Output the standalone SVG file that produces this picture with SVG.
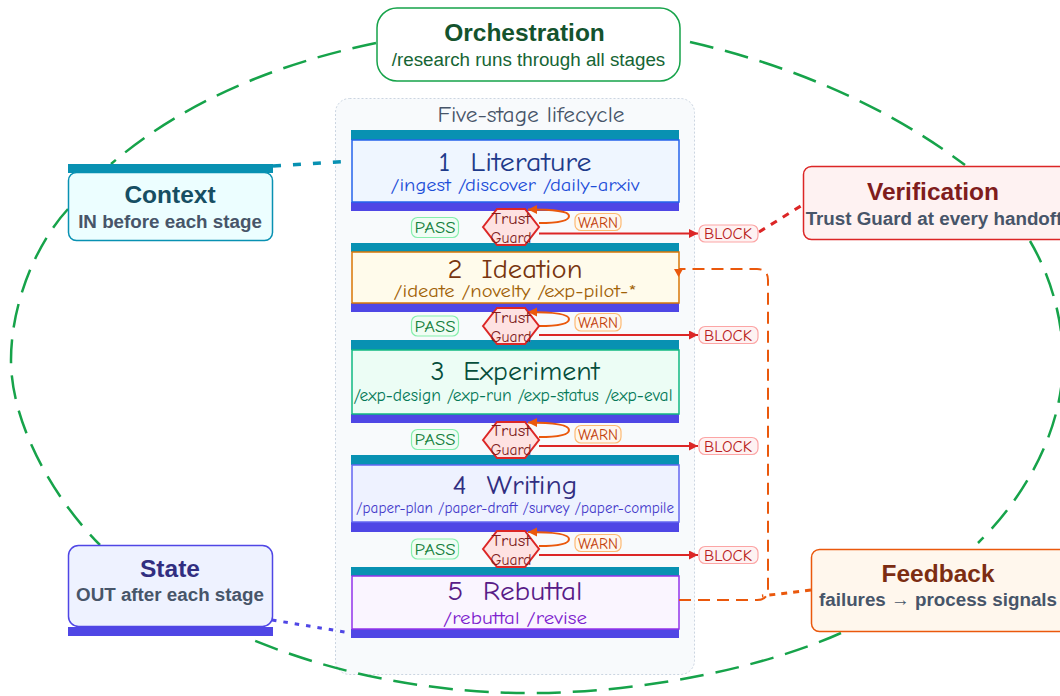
<svg xmlns="http://www.w3.org/2000/svg" width="1060" height="696" viewBox="0 0 1060 696">
<style>
text{text-anchor:middle;white-space:pre}
.c{font-family:"Comic Sans MS","Comic Neue",cursive}
.tt{font-size:27px}
.top{fill:#0891b2}
.bot{fill:#4f46e5}
.sub{font-family:"Liberation Sans",Arial,sans-serif;font-weight:bold;font-size:18.800px;fill:#475569}
.nt{font-family:"Liberation Sans",Arial,sans-serif;font-weight:bold;font-size:24.500px}
.hex{fill:#fee2e2;stroke:#dc2626;stroke-width:2}
.gt{font-size:16.500px;fill:#7f1d1d}
.pass{fill:#f0fdf4;stroke:#86efac;stroke-width:1.2}
.warn{fill:#fff7ed;stroke:#fdba74;stroke-width:1.2}
.block{fill:#fef2f2;stroke:#fca5a5;stroke-width:1.2}
.lbl{font-size:16px}
.loop{fill:none;stroke:#ea580c;stroke-width:2}
.blk{fill:none;stroke:#dc2626;stroke-width:2}
.ring{stroke:#16a34a;stroke-width:2.500;stroke-dasharray:24 12}
</style>
<defs>
<marker id="ao" markerUnits="userSpaceOnUse" markerWidth="10" markerHeight="10" refX="9" refY="4.500" orient="auto"><path d="M0,0L9,4.500L0,9z" fill="#ea580c"/></marker>
<marker id="ar" markerUnits="userSpaceOnUse" markerWidth="10" markerHeight="10" refX="9" refY="4.500" orient="auto"><path d="M0,0L9,4.500L0,9z" fill="#dc2626"/></marker>
</defs>
<g id="lifecycle"><rect x="335.500" y="98.500" width="359" height="576" rx="14" fill="#f8fafc" stroke="#cbd5e1" stroke-dasharray="2 2"/>
<text class="c" x="531" y="122" font-size="23" fill="#475569" textLength="187" lengthAdjust="spacingAndGlyphs">Five-stage lifecycle</text></g>
<g id="stage1"><rect class="top" x="351" y="130" width="328" height="10"/><rect class="bot" x="351" y="202" width="328" height="9"/><rect x="352" y="140" width="327" height="62" fill="#eff6ff" stroke="#2563eb" stroke-width="1.500"/>
<text class="c tt" x="515" y="171" fill="#1e3a8a" textLength="153" lengthAdjust="spacingAndGlyphs">1  Literature</text><text class="c" x="515" y="191" font-size="19" fill="#1d4ed8" textLength="249" lengthAdjust="spacingAndGlyphs">/ingest /discover /daily-arxiv</text></g>
<g id="stage2"><rect class="top" x="351" y="243" width="328" height="9"/><rect class="bot" x="351" y="303" width="328" height="9"/><rect x="352" y="252" width="327" height="51" fill="#fffbeb" stroke="#d97706" stroke-width="1.500"/>
<text class="c tt" x="515" y="278" fill="#78350f" textLength="135" lengthAdjust="spacingAndGlyphs">2  Ideation</text><text class="c" x="515" y="297" font-size="19" fill="#a16207" textLength="243" lengthAdjust="spacingAndGlyphs">/ideate /novelty /exp-pilot-*</text></g>
<g id="stage3"><rect class="top" x="351" y="340" width="328" height="10"/><rect class="bot" x="351" y="414" width="328" height="9"/><rect x="352" y="350" width="327" height="64" fill="#ecfdf5" stroke="#10b981" stroke-width="1.500"/>
<text class="c tt" x="515" y="380" fill="#064e3b" textLength="169" lengthAdjust="spacingAndGlyphs">3  Experiment</text><text class="c" x="513" y="401" font-size="17" fill="#047857" textLength="319" lengthAdjust="spacingAndGlyphs">/exp-design /exp-run /exp-status /exp-eval</text></g>
<g id="stage4"><rect class="top" x="351" y="455" width="328" height="10"/><rect class="bot" x="351" y="522" width="328" height="10"/><rect x="352" y="465" width="327" height="57" fill="#eef2ff" stroke="#6366f1" stroke-width="1.500"/>
<text class="c tt" x="515" y="494" fill="#312e81" textLength="125" lengthAdjust="spacingAndGlyphs">4  Writing</text><text class="c" x="515" y="513" font-size="16" fill="#4338ca" textLength="318" lengthAdjust="spacingAndGlyphs">/paper-plan /paper-draft /survey /paper-compile</text></g>
<g id="stage5"><rect class="top" x="351" y="567" width="328" height="9"/><rect class="bot" x="351" y="629" width="328" height="9"/><rect x="352" y="576" width="327" height="53" fill="#faf5ff" stroke="#9333ea" stroke-width="1.500"/>
<text class="c tt" x="515" y="600" fill="#581c87" textLength="135" lengthAdjust="spacingAndGlyphs">5  Rebuttal</text><text class="c" x="515" y="624" font-size="19" fill="#7e22ce" textLength="144" lengthAdjust="spacingAndGlyphs">/rebuttal /revise</text></g>
<g id="connectors" fill="none">
<path class="ring" d="M376,43C270,65 180,105 111,164"/>
<path class="ring" d="M68,209C35,245 11,305 11,360C11,425 55,500 100,545"/>
<path class="ring" d="M841,633C770,665 650,693 530,693C420,693 325,670 248,638"/>
<path class="ring" d="M1030,241C1050,275 1063,318 1063,361C1063,430 1025,497 978,543"/>
<path class="ring" d="M690,42C790,65 885,105 965,165"/>
<path d="M273,166L351,161" stroke="#0891b2" stroke-width="3.500" stroke-dasharray="8 12"/>
<path d="M272,620L351,633" stroke="#4f46e5" stroke-width="3" stroke-dasharray="4.500 7"/>
<path d="M759,232L804,204" stroke="#dc2626" stroke-width="3" stroke-dasharray="7 7"/>
<path d="M811,590L762,596" stroke="#ea580c" stroke-width="3" stroke-dasharray="6 6"/>
<path d="M679,600H757Q768,600 768,589V280Q768,269 757,269H679" stroke="#ea580c" stroke-width="2" stroke-dasharray="12 7"/>
<path d="M674,269H683L678.500,277z" fill="#ea580c"/>
<path class="loop" marker-end="url(#ao)" d="M539,223C562,223 569,220 569,216C569,211 555,209.500 528,209.500"/>
<path class="blk" marker-end="url(#ar)" d="M539,233.500H698"/>
<path class="loop" marker-end="url(#ao)" d="M539,326C562,326 569,323 569,319C569,314 555,312 528,312"/>
<path class="blk" marker-end="url(#ar)" d="M539,335H698"/>
<path class="loop" marker-end="url(#ao)" d="M539,437C562,437 569,434 569,430C569,425 555,422.500 528,422.500"/>
<path class="blk" marker-end="url(#ar)" d="M539,446H698"/>
<path class="loop" marker-end="url(#ao)" d="M539,546C562,546 569,543 569,539C569,534 555,532 528,532"/>
<path class="blk" marker-end="url(#ar)" d="M539,555H698"/>
</g>
<g id="guard1"><polygon class="hex" points="483,227 497,209 525,209 539,227 525,245 497,245"/><text class="c gt" x="511" y="224" textLength="39" lengthAdjust="spacingAndGlyphs">Trust</text><text class="c gt" x="511" y="243" textLength="41" lengthAdjust="spacingAndGlyphs">Guard</text></g>
<g id="guard2"><polygon class="hex" points="483,326 497,308 525,308 539,326 525,344 497,344"/><text class="c gt" x="511" y="323" textLength="39" lengthAdjust="spacingAndGlyphs">Trust</text><text class="c gt" x="511" y="342" textLength="41" lengthAdjust="spacingAndGlyphs">Guard</text></g>
<g id="guard3"><polygon class="hex" points="483,440 497,422 525,422 539,440 525,458 497,458"/><text class="c gt" x="511" y="436" textLength="39" lengthAdjust="spacingAndGlyphs">Trust</text><text class="c gt" x="511" y="455" textLength="41" lengthAdjust="spacingAndGlyphs">Guard</text></g>
<g id="guard4"><polygon class="hex" points="483,549 497,531 525,531 539,549 525,567 497,567"/><text class="c gt" x="511" y="546" textLength="39" lengthAdjust="spacingAndGlyphs">Trust</text><text class="c gt" x="511" y="565" textLength="41" lengthAdjust="spacingAndGlyphs">Guard</text></g>
<g id="pass1"><rect class="pass" x="411.500" y="217.500" width="47" height="20" rx="6"/><text class="c lbl" x="435" y="232.500" fill="#15803d" textLength="41" lengthAdjust="spacingAndGlyphs">PASS</text></g>
<g id="pass2"><rect class="pass" x="411.500" y="316" width="47" height="20" rx="6"/><text class="c lbl" x="435" y="331.500" fill="#15803d" textLength="41" lengthAdjust="spacingAndGlyphs">PASS</text></g>
<g id="pass3"><rect class="pass" x="411.500" y="429.500" width="47" height="20" rx="6"/><text class="c lbl" x="435" y="445" fill="#15803d" textLength="41" lengthAdjust="spacingAndGlyphs">PASS</text></g>
<g id="pass4"><rect class="pass" x="411.500" y="539" width="47" height="20" rx="6"/><text class="c lbl" x="435" y="554.500" fill="#15803d" textLength="41" lengthAdjust="spacingAndGlyphs">PASS</text></g>
<g id="warn1"><rect class="warn" x="575" y="213.500" width="46" height="17" rx="6"/><text class="c lbl" x="598" y="227.500" fill="#c2410c" textLength="40" lengthAdjust="spacingAndGlyphs">WARN</text></g>
<g id="warn2"><rect class="warn" x="575" y="313.500" width="46" height="17.500" rx="6"/><text class="c lbl" x="598" y="328" fill="#c2410c" textLength="40" lengthAdjust="spacingAndGlyphs">WARN</text></g>
<g id="warn3"><rect class="warn" x="575" y="425.500" width="46" height="17.500" rx="6"/><text class="c lbl" x="598" y="440" fill="#c2410c" textLength="40" lengthAdjust="spacingAndGlyphs">WARN</text></g>
<g id="warn4"><rect class="warn" x="575" y="534.500" width="46" height="17" rx="6"/><text class="c lbl" x="598" y="548.500" fill="#c2410c" textLength="40" lengthAdjust="spacingAndGlyphs">WARN</text></g>
<g id="block1"><rect class="block" x="699" y="225" width="59" height="17" rx="6"/><text class="c lbl" x="728" y="239" fill="#b91c1c" textLength="48" lengthAdjust="spacingAndGlyphs">BLOCK</text></g>
<g id="block2"><rect class="block" x="699" y="326.500" width="59" height="17" rx="6"/><text class="c lbl" x="728" y="341" fill="#b91c1c" textLength="48" lengthAdjust="spacingAndGlyphs">BLOCK</text></g>
<g id="block3"><rect class="block" x="699" y="437.500" width="59" height="17" rx="6"/><text class="c lbl" x="728" y="452" fill="#b91c1c" textLength="48" lengthAdjust="spacingAndGlyphs">BLOCK</text></g>
<g id="block4"><rect class="block" x="699" y="546.500" width="59" height="17" rx="6"/><text class="c lbl" x="728" y="560.500" fill="#b91c1c" textLength="48" lengthAdjust="spacingAndGlyphs">BLOCK</text></g>
<g id="orchestration"><rect x="377" y="8" width="303" height="73" rx="20" fill="#fff" stroke="#16a34a" stroke-width="1.500"/><text class="nt" x="524.500" y="41" fill="#14532d">Orchestration</text><text x="528.500" y="66" font-family="Liberation Sans,Arial,sans-serif" font-size="18.800" fill="#166534">/research runs through all stages</text></g>
<g id="context"><rect class="top" x="68" y="164" width="205" height="9"/><rect x="68.500" y="172.500" width="204" height="68" rx="8" fill="#ecfeff" stroke="#0891b2" stroke-width="1.500"/><text class="nt" x="170" y="203" fill="#164e63">Context</text><text class="sub" x="170" y="228">IN before each stage</text></g>
<g id="state"><rect class="bot" x="68" y="627" width="205" height="9"/><rect x="68.500" y="545.500" width="204" height="81" rx="10" fill="#eef2ff" stroke="#4f46e5" stroke-width="1.500"/><text class="nt" x="170" y="577" fill="#312e81">State</text><text class="sub" x="170" y="601">OUT after each stage</text></g>
<g id="verification"><rect x="803.500" y="166.500" width="270" height="73" rx="8" fill="#fef2f2" stroke="#dc2626" stroke-width="1.500"/><text class="nt" x="933" y="200" fill="#7f1d1d">Verification</text><text class="sub" x="934" y="225">Trust Guard at every handoff</text></g>
<g id="feedback"><rect x="811.500" y="549.500" width="270" height="82" rx="8" fill="#fff7ed" stroke="#ea580c" stroke-width="1.500"/><text class="nt" x="938" y="582" fill="#7c2d12">Feedback</text><text class="sub" x="938" y="606">failures → process signals</text></g>
</svg>
